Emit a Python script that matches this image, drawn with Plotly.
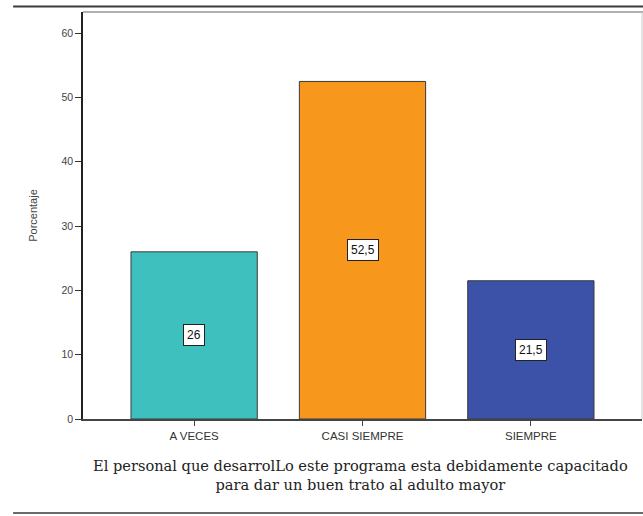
import plotly.graph_objects as go

# Respuestas y porcentajes
categorias = ["A VECES", "CASI SIEMPRE", "SIEMPRE"]
porcentajes = [26, 52.5, 21.5]
colores = ["#3ec0bf", "#f7981d", "#3c52a8"]
y_ticks = [0, 10, 20, 30, 40, 50, 60]

titulo_x = ("El personal que desarrolLo este programa esta debidamente capacitado"
            "<br>para dar un buen trato al adulto mayor")


def fmt(v):
    s = f"{v:g}"
    return s.replace(".", ",")


fig = go.Figure(
    go.Bar(
        x=categorias,
        y=porcentajes,
        marker=dict(color=colores, line=dict(color="#3a3a3a", width=1)),
        width=0.75,
        hoverinfo="skip",
    )
)

# Etiquetas de valor en recuadro blanco, a media altura de cada barra
for cat, v in zip(categorias, porcentajes):
    fig.add_annotation(
        x=cat, y=v / 2, text=fmt(v), showarrow=False,
        font=dict(family="Liberation Sans, Arial", size=12, color="#111"),
        bgcolor="white", bordercolor="#222", borderwidth=1, borderpad=3,
    )

# Título del eje X (dos líneas, serif)
fig.add_annotation(
    xref="paper", yref="paper", x=0.497, y=-0.088,
    xanchor="center", yanchor="top", showarrow=False,
    text=titulo_x, align="center",
    font=dict(family="DejaVu Serif, Liberation Serif", size=14.6, color="#222"),
)

# Marco superior e inferior
fig.add_shape(type="line", xref="paper", yref="paper",
              x0=-0.125, x1=1.01, y0=1.0135, y1=1.0135,
              line=dict(color="#3a3a3a", width=2))
fig.add_shape(type="line", xref="paper", yref="paper",
              x0=0, x1=1.01, y0=1.0, y1=1.0,
              line=dict(color="#b0b0b0", width=2))
fig.add_shape(type="line", xref="paper", yref="paper",
              x0=1.0, x1=1.0, y0=0, y1=1.0,
              line=dict(color="#c8c8c8", width=1))
fig.add_shape(type="line", xref="paper", yref="paper",
              x0=-0.125, x1=1.01, y0=-0.231, y1=-0.231,
              line=dict(color="#6a6a6a", width=2))

fig.update_layout(
    width=643, height=516,
    margin=dict(l=83, r=1, t=12, b=97),
    paper_bgcolor="white", plot_bgcolor="white",
    showlegend=False,
    xaxis=dict(
        range=[-0.66, 2.66], showgrid=False, zeroline=False,
        showline=True, linecolor="#444", linewidth=1.5,
        ticks="outside", ticklen=5, tickcolor="#444",
        tickfont=dict(family="Liberation Sans, Arial", size=11.5, color="#333"),
    ),
    yaxis=dict(
        range=[0, 63.3], tickvals=y_ticks, showgrid=False, zeroline=False,
        showline=True, linecolor="#222", linewidth=1.5,
        ticks="outside", ticklen=6, tickcolor="#333",
        tickfont=dict(family="Liberation Sans, Arial", size=10.5, color="#444"),
        title=dict(text="Porcentaje", standoff=22,
                   font=dict(family="Liberation Sans, Arial", size=11, color="#444")),
    ),
)

fig.write_html("out.html")
